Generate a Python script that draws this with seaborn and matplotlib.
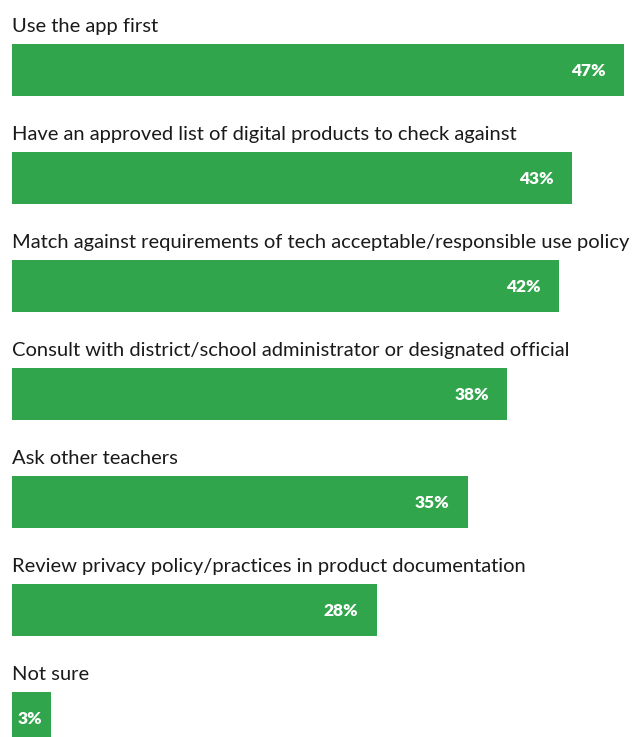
import matplotlib
matplotlib.use("Agg")
import matplotlib.pyplot as plt
import matplotlib.transforms as mtransforms
import pandas as pd
import seaborn as sns

categories = [
    "Use the app first",
    "Have an approved list of digital products to check against",
    "Match against requirements of tech acceptable/responsible use policy",
    "Consult with district/school administrator or designated official",
    "Ask other teachers",
    "Review privacy policy/practices in product documentation",
    "Not sure",
]
values = [47, 43, 42, 38, 35, 28, 3]
value_labels = ["47%", "43%", "42%", "38%", "35%", "28%", "3%"]

df = pd.DataFrame({"category": categories, "value": values})

sns.set_theme(style="white")
plt.rcParams["font.family"] = ["Lato", "DejaVu Sans"]

DPI = 100
fig = plt.figure(figsize=(6.35, 7.37), dpi=DPI)
ax = fig.add_axes([12 / 635, 0, 1 - 12 / 635, 1])

green = "#30A54B"
bar_h = 52 / 108
sns.barplot(data=df, y="category", x="value", orient="h", color=green,
            width=bar_h, saturation=1, linewidth=0, ax=ax)

ax.set_xlim(0, 623 / 13.02)
ax.set_ylim((737 - 70) / 108, -70 / 108)
ax.axis("off")

up = mtransforms.offset_copy(ax.transData, fig=fig, x=0, y=12, units="dots")
left_pad = mtransforms.offset_copy(ax.transData, fig=fig, x=-18, y=-1, units="dots")
small_pad = mtransforms.offset_copy(ax.transData, fig=fig, x=-2, y=-1, units="dots")

for i, (cat, v, lab) in enumerate(zip(categories, values, value_labels)):
    ax.text(0, i - bar_h / 2, cat, transform=up, ha="left", va="baseline",
            fontsize=14.5, color="#1a1a1a")
    if v >= 10:
        ax.text(v, i, lab, transform=left_pad, ha="right", va="center",
                fontsize=12.5, fontweight="heavy", color="white")
    else:
        ax.text(v / 2, i, lab, transform=small_pad, ha="center", va="center",
                fontsize=12.5, fontweight="heavy", color="white")

fig.savefig("out.png", dpi=DPI)
